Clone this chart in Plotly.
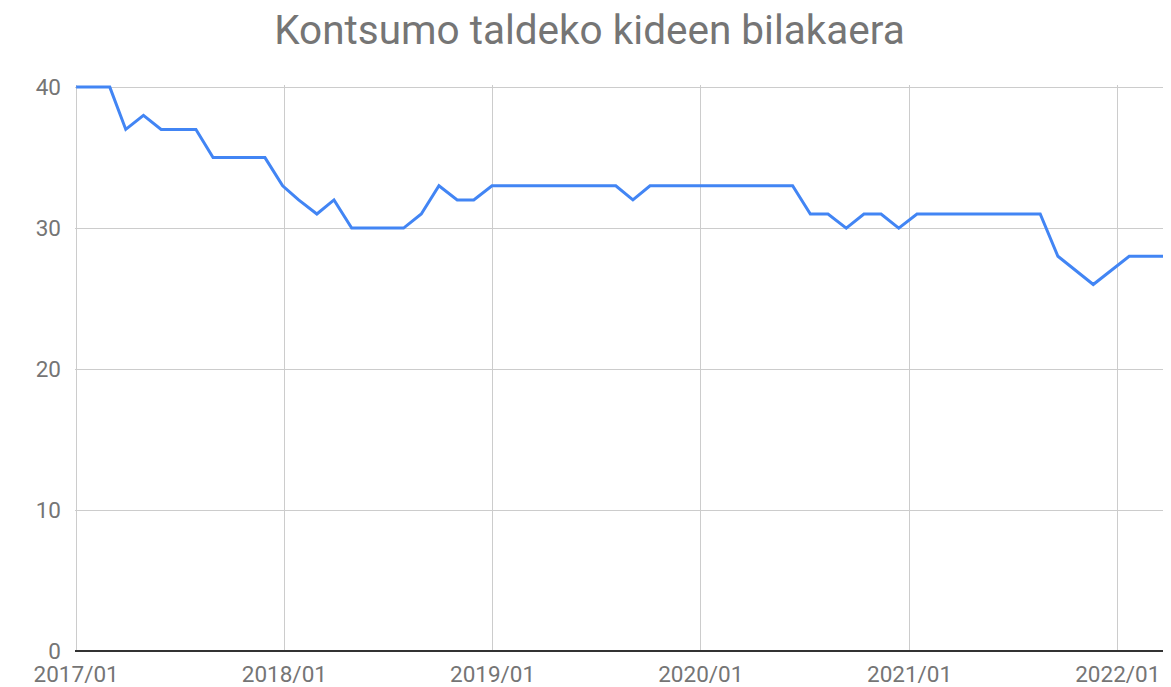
import plotly.graph_objects as go

dates = [
    "2017-01-01", "2017-03-01", "2017-03-29", "2017-04-29", "2017-05-30",
    "2017-07-30", "2017-08-29", "2017-11-28", "2017-12-29", "2018-01-26",
    "2018-02-27", "2018-03-29", "2018-04-29", "2018-07-29", "2018-08-29",
    "2018-09-29", "2018-10-31", "2018-11-29", "2018-12-31", "2019-08-05",
    "2019-09-04", "2019-10-04", "2020-06-10", "2020-07-11", "2020-08-11",
    "2020-09-12", "2020-10-13", "2020-11-12", "2020-12-13", "2021-01-14",
    "2021-08-18", "2021-09-18", "2021-11-19", "2022-01-21", "2022-03-22",
]
members = [
    40, 40, 37, 38, 37,
    37, 35, 35, 33, 32,
    31, 32, 30, 30, 31,
    33, 32, 32, 33, 33,
    32, 33, 33, 31, 31,
    30, 31, 31, 30, 31,
    31, 28, 26, 28, 28,
]
x_tick_vals = ["2017-01-01", "2018-01-01", "2019-01-01", "2020-01-01", "2021-01-01", "2022-01-01"]
x_tick_text = ["2017/01", "2018/01", "2019/01", "2020/01", "2021/01", "2022/01"]
y_tick_vals = [0, 10, 20, 30, 40]

title_text = "Kontsumo taldeko kideen bilakaera"

fig = go.Figure()
fig.add_trace(go.Scatter(
    x=dates, y=members, mode="lines",
    line=dict(color="#4285F4", width=3),
    showlegend=False,
))

# page body has an 8px margin, so the figure is sized/offset to compensate
fig.update_layout(
    width=1163, height=679,
    margin=dict(l=67, r=7, t=77, b=36),
    paper_bgcolor="white", plot_bgcolor="white",
    font=dict(family="Roboto, Arial, sans-serif", color="#757575", size=22),
    title=dict(text=title_text, x=0.5, xanchor="center", y=0.968, yanchor="middle",
               font=dict(size=40.5, color="#757575", family="Roboto, Arial, sans-serif")),
)
fig.update_xaxes(
    type="date",
    range=["2016-12-30", "2022-03-23"],
    tickvals=x_tick_vals, ticktext=x_tick_text,
    showgrid=True, gridcolor="#cccccc", gridwidth=1,
    showline=False, zeroline=False,
    ticks="", ticklabelstandoff=7, automargin=False,
    tickfont=dict(size=22.5, color="#757575"),
)
fig.update_yaxes(
    range=[0, 40.15],
    tickvals=y_tick_vals,
    showgrid=True, gridcolor="#cccccc", gridwidth=1,
    zeroline=True, zerolinecolor="#333333", zerolinewidth=1.5,
    ticks="", ticklabelstandoff=13, automargin=False,
    tickfont=dict(size=22.5, color="#757575"),
)

fig.write_html("out.html")
